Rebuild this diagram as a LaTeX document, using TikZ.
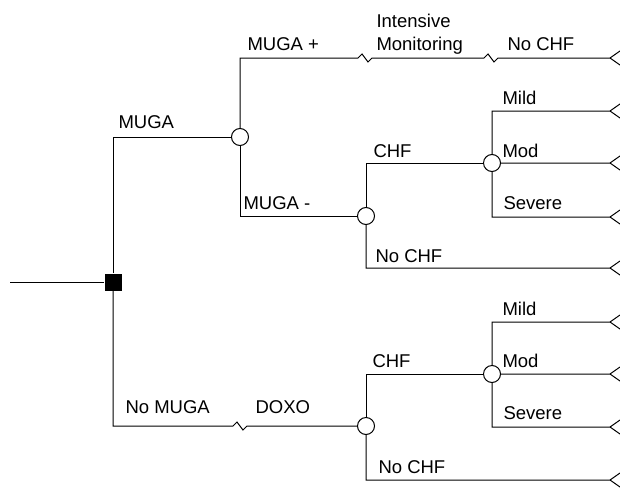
\documentclass[tikz,border=0pt]{standalone}
\usepackage{fontspec}
\setmainfont{Liberation Sans}
\newcommand{\wig}{-- ++(4,-4) -- ++(6,8) -- ++(4,-4)}
\newcommand{\term}{-- ++(10,-7) ++(-10,7) -- ++(10,7)}
\begin{document}
\begin{tikzpicture}[x=1pt,y=-1pt,line width=1pt,
  chance/.style={circle,draw,fill=white,minimum size=17pt,inner sep=0pt},
  decision/.style={rectangle,fill=black,minimum size=17pt,inner sep=0pt},
  lbl/.style={anchor=base west,inner sep=0pt,font=\fontsize{18.5}{21}\selectfont}]
\useasboundingbox (0,0) rectangle (620,487);
\node[decision] (root) at (113,282) {};
\node[chance] (muga) at (240,137) {};
\node[chance] (neg) at (366,216) {};
\node[chance] (chf1) at (492,163) {};
\node[chance] (doxo) at (366,426) {};
\node[chance] (chf2) at (492,374) {};
\coordinate (start) at (10,282);
\coordinate (w1) at (365,58);
\coordinate (w2) at (491,58);
\coordinate (w3) at (240,426);
\foreach \n/\y in {1/58,2/111,3/163,4/217,5/268,6/322,7/374,8/427,9/480}
  \coordinate (t\n) at (610,\y);
%\draw[dashed] (0,0) rectangle (620,487);
\draw (start) -- (root.west);
\draw (root.north) |- (muga.west);
\draw (root.south) |- ([xshift=-7pt]w3) \wig -- (doxo.west);
\draw (muga.north) |- ([xshift=-7pt]w1) \wig -- ([xshift=-7pt]w2) \wig -- (t1) \term;
\draw (muga.south) |- (neg.west);
\draw (neg.north) |- (chf1.west);
\draw (neg.south) |- (t5) \term;
\draw (chf1.north) |- (t2) \term;
\draw (chf1.east) -- (t3) \term;
\draw (chf1.south) |- (t4) \term;
\draw (doxo.north) |- (chf2.west);
\draw (doxo.south) |- (t9) \term;
\draw (chf2.north) |- (t6) \term;
\draw (chf2.east) -- (t7) \term;
\draw (chf2.south) |- (t8) \term;
\node[lbl] (lmuga) at (118,128) {MUGA};
\node[lbl] (lplus) at (247,50) {MUGA +};
\node[lbl] (lint) at (376,28) {Intensive};
\node[lbl] (lmon) at (376,50) {Monitoring};
\node[lbl] (lnochf1) at (507,50) {No CHF};
\node[lbl] (lneg) at (243,209) {MUGA -};
\node[lbl] (lchf1) at (373,157) {CHF};
\node[lbl] (lmild1) at (502,104) {Mild};
\node[lbl] (lmod1) at (502,157) {Mod};
\node[lbl] (lsev1) at (503,209) {Severe};
\node[lbl] (lnochf2) at (375,262) {No CHF};
\node[lbl] (lnomuga) at (125,413) {No MUGA};
\node[lbl] (ldoxo) at (255,413) {DOXO};
\node[lbl] (lchf2) at (372,367) {CHF};
\node[lbl] (lmild2) at (502,315) {Mild};
\node[lbl] (lmod2) at (502,367) {Mod};
\node[lbl] (lsev2) at (503,419) {Severe};
\node[lbl] (lnochf3) at (378,473) {No CHF};
\end{tikzpicture}
\end{document}
